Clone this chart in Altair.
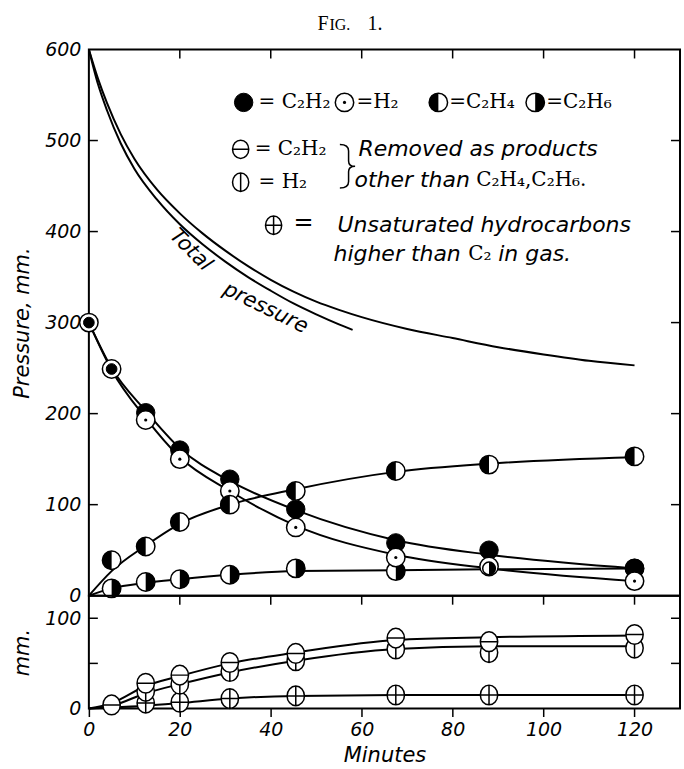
import altair as alt
import pandas as pd

# ---------------- data ----------------
times = [0, 5, 12.5, 20, 31, 45.5, 67.5, 88, 120]

# top panel: measured points (mm)
c2h2_pts = [300, 249, 201, 160, 128, 95, 58, 50, 30]
h2_pts = [300, 249, 193, 150, 115, 75, 42, 32, 16]
c2h4_pts = [None, 39, 54, 81, 100, 115, 137, 144, 153]
c2h6_pts = [None, 8, 15, 18, 23, 30, 27, 30, 30]

# top panel: smooth curves as drawn
c2h2_curve = [300, 250, 203, 162, 126, 94, 61, 45, 30]
h2_curve = [300, 248, 195, 152, 115, 77, 45, 30, 16]
c2h4_curve = [0, 27, 55, 79, 100, 117, 136, 145, 152]
c2h6_curve = [0, 8, 14, 18, 23, 27, 28, 29, 30]

total_t = [0, 2, 4, 7, 10, 15, 20, 25, 30, 35, 40, 45, 50, 55, 60, 70, 80, 90, 100, 110, 120]
total_p = [600, 568, 541, 507, 480, 446, 420, 398, 379, 362, 347, 334, 323, 314, 306, 293, 283, 273, 265, 258, 253]
total2_t = [0, 2, 4, 7, 10, 15, 20, 25, 30, 35, 40, 45, 50, 55, 58]
total2_p = [600, 562, 533, 497, 469, 435, 408, 386, 367, 350, 335, 321, 309, 298, 292]

# bottom panel: removed as products / unsaturated (mm)
c2h2_rem_pts = [None, 4, 28, 37, 51, 61, 78, 74, 82]
h2_rem_pts = [None, None, 19, 27, 41, 53, 66, 62, 67]
unsat_pts = [None, None, 6, 7, 11, 14, 15, 15, 15]
c2h2_rem_curve = [0, 6, 25, 36, 50, 62, 76, 79, 81]
h2_rem_curve = [0, 3, 17, 27, 40, 53, 66, 69, 69]
unsat_curve = [0, 1, 3, 6, 11, 14, 15, 15, 15]

top_y_ticks = [100, 200, 300, 400, 500]
top_y_labels = [0, 100, 200, 300, 400, 500, 600]
x_ticks = [20, 40, 60, 80, 100, 120]
x_labels = [0, 20, 40, 60, 80, 100, 120]
bot_y_ticks = [50, 100]
bot_y_labels = [0, 100]

# ---------------- layout ----------------
W, H_TOP, H_BOT = 592, 547, 113
SANS = "DejaVu Sans"
SERIF = "DejaVu Serif"

CIRCLE = "circle"
LEFT_HALF = "M 0 -1 A 1 1 0 0 0 0 1 Z"
RIGHT_HALF = "M 0 -1 A 1 1 0 0 1 0 1 Z"
ELL = "M 0.88 0 A 0.88 1 0 1 1 -0.88 0 A 0.88 1 0 1 1 0.88 0 Z"
ELL_H = ELL + " M -0.88 0 L 0.88 0"
ELL_V = ELL + " M 0 -1 L 0 1"
ELL_P = ELL + " M -0.88 0 L 0.88 0 M 0 -1 L 0 1"
BRACE = ("M -0.35 -1 Q 0.05 -1 0.05 -0.7 L 0.05 -0.25 Q 0.05 0 0.35 0 "
         "Q 0.05 0 0.05 0.25 L 0.05 0.7 Q 0.05 1 -0.35 1")

S_TOP = 340   # marker size
S_BOT = 390

xs = alt.Scale(domain=[0, 130], nice=False, zero=False)
X_TOP = alt.X("t:Q", scale=xs, axis=None)
X_BOT = alt.X("t:Q", scale=xs, axis=alt.Axis(
    values=x_labels, grid=False, domain=False, ticks=True, tickSize=8, tickWidth=1.5,
    tickColor="black", labelFont=SANS, labelFontStyle="italic", labelFontSize=19,
    labelFontWeight="normal", labelColor="black", labelPadding=4, labelFlush=False,
    title="Minutes", titleFont=SANS, titleFontStyle="italic", titleFontWeight="normal",
    titleFontSize=21, titleColor="black", titlePadding=5))
Y_TOP = alt.Y("v:Q", scale=alt.Scale(domain=[0, 600], nice=False), axis=alt.Axis(
    values=top_y_labels, grid=False, domain=False, ticks=False,
    labelFont=SANS, labelFontStyle="italic", labelFontSize=19, labelColor="black",
    labelFontWeight="normal", labelPadding=8, labelFlush=False,
    title="Pressure, mm.", titleFont=SANS, titleFontStyle="italic",
    titleFontWeight="normal", titleFontSize=21, titleColor="black", titlePadding=12))
Y_BOT = alt.Y("v:Q", scale=alt.Scale(domain=[0, 125], nice=False), axis=alt.Axis(
    values=bot_y_labels, grid=False, domain=False, ticks=False,
    labelFont=SANS, labelFontStyle="italic", labelFontSize=19, labelColor="black",
    labelFontWeight="normal", labelPadding=8, labelFlush=False,
    title="mm.", titleFont=SANS, titleFontStyle="italic",
    titleFontWeight="normal", titleFontSize=21, titleColor="black", titlePadding=12))


def sdf(ts, vs):
    return pd.DataFrame({"t": ts, "v": vs}).dropna()


def curve(ts, vs, X, Y):
    return alt.Chart(sdf(ts, vs)).mark_line(
        color="black", strokeWidth=2, interpolate="monotone").encode(x=X, y=Y)


def marker(kind, data, x, y, size):
    def m(shape, fill, sz, sw=1.5):
        return alt.Chart(data).mark_point(
            shape=shape, filled=True, fill=fill, stroke="black", strokeWidth=sw,
            size=sz, opacity=1).encode(x=x, y=y)
    if kind == "black":
        return [m(CIRCLE, "black", size, 1)]
    if kind == "dot":
        return [m(CIRCLE, "white", size), m(CIRCLE, "black", 10, 0)]
    if kind == "left":
        return [m(CIRCLE, "white", size), m(LEFT_HALF, "black", size, 0)]
    if kind == "right":
        return [m(CIRCLE, "white", size), m(RIGHT_HALF, "black", size, 0)]
    if kind == "hline":
        return [m(ELL_H, "white", size)]
    if kind == "vline":
        return [m(ELL_V, "white", size)]
    if kind == "plus":
        return [m(ELL_P, "white", size)]
    return []


ONE = pd.DataFrame({"k": [0]})


def txt(px, py, s, font=SANS, size=22, style="italic", align="left",
        angle=0, baseline="middle"):
    return alt.Chart(ONE).mark_text(
        text=s, font=font, fontSize=size, fontStyle=style, align=align,
        baseline=baseline, angle=angle, color="black").encode(
        x=alt.value(px), y=alt.value(py))


def sym(kind, px, py, size):
    return marker(kind, ONE, alt.value(px), alt.value(py), size)


def ticks_y(vals, Y, w):
    d = pd.DataFrame({"v": vals})
    left = alt.Chart(d).mark_rule(color="black", strokeWidth=1.5).encode(
        y=Y, x=alt.value(0), x2=alt.value(9))
    right = alt.Chart(d).mark_rule(color="black", strokeWidth=1.5).encode(
        y=Y, x=alt.value(w - 9), x2=alt.value(w))
    return [left, right]


def ticks_top(vals, X):
    d = pd.DataFrame({"t": vals})
    return [alt.Chart(d).mark_rule(color="black", strokeWidth=1.5).encode(
        x=X, y=alt.value(0), y2=alt.value(9))]


# ---------------- top panel ----------------
top_layers = [
    curve(total_t, total_p, X_TOP, Y_TOP),
    curve(total2_t, total2_p, X_TOP, Y_TOP),
    curve(times, c2h2_curve, X_TOP, Y_TOP),
    curve(times, h2_curve, X_TOP, Y_TOP),
    curve(times, c2h4_curve, X_TOP, Y_TOP),
    curve(times, c2h6_curve, X_TOP, Y_TOP),
]
top_layers += ticks_y(top_y_ticks, Y_TOP, W) + ticks_top(x_ticks, X_TOP)

pts = pd.DataFrame({"t": times, "c2h2": c2h2_pts, "h2": h2_pts,
                    "c2h4": c2h4_pts, "c2h6": c2h6_pts})
coin_a = (pts["c2h2"] - pts["h2"]).abs() < 3
coin_b = (pts["c2h6"] - pts["h2"]).abs() < 4

d_c2h6 = sdf(pts["t"][~coin_b], pts["c2h6"][~coin_b])
d_c2h6s = sdf(pts["t"][coin_b], pts["c2h6"][coin_b])
d_c2h2 = sdf(pts["t"][~coin_a], pts["c2h2"][~coin_a])
d_c2h2s = sdf(pts["t"][coin_a], pts["c2h2"][coin_a])
d_h2 = sdf(times, h2_pts)
d_c2h4 = sdf(times, c2h4_pts)

top_layers += marker("right", d_c2h6, X_TOP, Y_TOP, S_TOP)
top_layers += marker("black", d_c2h2, X_TOP, Y_TOP, S_TOP)
top_layers += marker("dot", d_h2, X_TOP, Y_TOP, S_TOP)
top_layers += marker("left", d_c2h4, X_TOP, Y_TOP, S_TOP)
top_layers += marker("black", d_c2h2s, X_TOP, Y_TOP, 115)
top_layers += marker("right", d_c2h6s, X_TOP, Y_TOP, 160)

# "Total pressure" label along the curve
top_layers += [txt(102, 201, "Total", size=21, angle=45, align="center"),
               txt(177, 259, "pressure", size=21, angle=26, align="center")]

# legend
FS = 20
top_layers += sym("black", 155, 53, S_TOP)
top_layers += [txt(170, 53, "= C₂H₂", font=SERIF, size=FS, style="normal")]
top_layers += sym("dot", 256, 53, S_TOP)
top_layers += [txt(268, 53, "=H₂", font=SERIF, size=FS, style="normal")]
top_layers += sym("left", 350, 53, S_TOP)
top_layers += [txt(361, 53, "=C₂H₄", font=SERIF, size=FS, style="normal")]
top_layers += sym("right", 447, 53, S_TOP)
top_layers += [txt(458, 53, "=C₂H₆", font=SERIF, size=FS, style="normal")]

top_layers += sym("hline", 152, 100, S_TOP)
top_layers += [txt(166, 100, "= C₂H₂", font=SERIF, size=FS, style="normal")]
top_layers += sym("vline", 152, 133, S_TOP)
top_layers += [txt(170, 133, "= H₂", font=SERIF, size=FS, style="normal")]
top_layers.append(alt.Chart(ONE).mark_point(
    shape=BRACE, filled=False, stroke="black", strokeWidth=1.5, size=1900,
    opacity=1).encode(x=alt.value(259), y=alt.value(117)))
top_layers += [txt(270, 100, "Removed as products"),
               txt(266, 131, "other than"),
               txt(388, 131, "C₂H₄,C₂H₆.", font=SERIF, size=FS, style="normal")]

top_layers += sym("plus", 185, 176, S_TOP)
top_layers += [txt(215, 174, "=", size=24, style="normal", align="center"),
               txt(249, 176, "Unsaturated hydrocarbons"),
               txt(245, 205, "higher than"),
               txt(380, 205, "C₂", font=SERIF, size=FS, style="normal"),
               txt(410, 205, "in gas.")]

# title
top_layers += [
    txt(229, -20, "F", font="Liberation Serif", size=20, style="normal", baseline="alphabetic"),
    txt(241, -20, "IG.", font="Liberation Serif", size=16, style="normal", baseline="alphabetic"),
    txt(279, -20, "1.", font="Liberation Serif", size=20, style="normal", baseline="alphabetic"),
]

top = alt.layer(*top_layers).properties(width=W, height=H_TOP)

# ---------------- bottom panel ----------------
bot_layers = [
    curve(times, c2h2_rem_curve, X_BOT, Y_BOT),
    curve(times, h2_rem_curve, X_BOT, Y_BOT),
    curve(times, unsat_curve, X_BOT, Y_BOT),
]
bot_layers += ticks_y(bot_y_ticks, Y_BOT, W) + ticks_top(x_ticks, X_BOT)
bot_layers += marker("plus", sdf(times, unsat_pts), X_BOT, Y_BOT, S_BOT)
bot_layers += marker("vline", sdf(times, h2_rem_pts), X_BOT, Y_BOT, S_BOT)
bot_layers += marker("hline", sdf(times, c2h2_rem_pts), X_BOT, Y_BOT, S_BOT)

bottom = alt.layer(*bot_layers).properties(width=W, height=H_BOT)

chart = alt.vconcat(top, bottom, spacing=0, bounds="flush").properties(
    padding={"left": 10, "top": 12, "right": 2, "bottom": 0},
    background="white",
).configure_view(stroke="black", strokeWidth=2).configure_axis(
    labelFontStyle="italic", labelFont=SANS, labelFontWeight="normal")

chart.save("out.html", embed_options={"renderer": "svg", "actions": False})
